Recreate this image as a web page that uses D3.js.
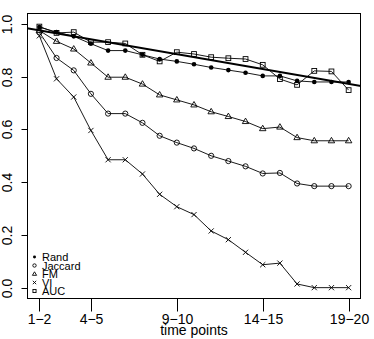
<!DOCTYPE html>
<html><head><meta charset="utf-8">
<script src="https://cdn.jsdelivr.net/npm/d3@7"></script>
<style>html,body{margin:0;padding:0;background:#fff;}svg{display:block;font-family:"Liberation Sans",Arial,sans-serif;}</style>
</head><body>
<svg id="c" width="374" height="339"></svg>
<script>
const timeIndex = d3.range(1, 20);
const xTickIndex = [1, 4, 9, 14, 19];
const xTickLabels = ["1\u22122", "4\u22125", "9\u221210", "14\u221215", "19\u221220"];
const yTicks = [0, 0.2, 0.4, 0.6, 0.8, 1.0];
const seriesNames = ["Rand", "Jaccard", "FM", "VI", "AUC"];
const rand = [0.988,0.969,0.953,0.925,0.899,0.899,0.883,0.867,0.858,0.847,0.835,0.825,0.815,0.803,0.803,0.784,0.780,0.780,0.780];
const jaccard = [0.968,0.871,0.824,0.735,0.660,0.660,0.625,0.576,0.550,0.528,0.500,0.480,0.460,0.433,0.435,0.395,0.385,0.385,0.385];
const fm = [0.975,0.934,0.905,0.852,0.798,0.798,0.772,0.731,0.712,0.693,0.667,0.649,0.630,0.603,0.609,0.569,0.557,0.557,0.557];
const vi = [0.955,0.792,0.723,0.596,0.485,0.485,0.431,0.354,0.307,0.277,0.215,0.182,0.134,0.087,0.093,0.014,0.000,0.000,0.000];
const auc = [0.990,0.966,0.969,0.931,0.931,0.926,0.883,0.858,0.893,0.886,0.874,0.870,0.867,0.845,0.791,0.769,0.822,0.820,0.749];
const fitIntercept = 0.987;
const fitSlope = -0.01127;
const xLabel = "time points";

const svg = d3.select("#c");
const x = d3.scaleLinear().domain([0.28, 19.72]).range([27, 361]);
const y = d3.scaleLinear().domain([-0.04, 1.04]).range([298.2, 13.4]);

const plot = svg.append("g");
// box
svg.append("rect").attr("x", 27.5).attr("y", 13.5).attr("width", 333).attr("height", 285)
  .attr("fill", "none").attr("stroke", "#000").attr("stroke-width", 1);

// clip
svg.append("clipPath").attr("id", "clip").append("rect").attr("x", 27.5).attr("y", 13.5).attr("width", 333).attr("height", 285);

// y axis
const yAxis = d3.axisLeft(y).tickValues(yTicks).tickFormat(d3.format(".1f")).tickSize(6).tickPadding(0);
const gy = svg.append("g").attr("transform", "translate(27.5,0)").call(yAxis);
gy.select(".domain").remove();
gy.selectAll(".tick line").attr("stroke", "#000");
gy.selectAll(".tick text").attr("font-size", 14).attr("fill", "#000")
  .attr("transform", "rotate(-90)").attr("text-anchor", "middle")
  .attr("x", 0).attr("dy", 0)
  .each(function(d){ d3.select(this).attr("x", -y(d)).attr("y", 12); });
gy.selectAll(".tick").attr("transform", d => `translate(0,${Math.round(y(d))+0.5})`);
gy.selectAll(".tick text").each(function(d){ d3.select(this).attr("x", -(Math.round(y(d))+0.5)); });
gy.selectAll(".tick text").attr("transform", function(d){ return `translate(0,${-(Math.round(y(d))+0.5)}) rotate(-90)`; })
  .attr("x", function(d){ return -(Math.round(y(d))+0.5); }).attr("y", -15.5);

// x axis
const xAxis = d3.axisBottom(x).tickValues(xTickIndex).tickFormat((d, i) => xTickLabels[i]).tickSize(13).tickPadding(0);
const gx = svg.append("g").attr("transform", "translate(0,298.5)").call(xAxis);
gx.select(".domain").remove();
gx.selectAll(".tick").attr("transform", d => `translate(${Math.round(x(d))+0.5},0)`);
gx.selectAll(".tick line").attr("stroke", "#000");
gx.selectAll(".tick text").attr("font-size", 14).attr("fill", "#000").attr("dy", 0).attr("y", 25);

svg.append("text").attr("x", (x.range()[0] + x.range()[1]) / 2).attr("y", 335)
  .attr("text-anchor", "middle").attr("font-size", 14).text(xLabel);

// fitted line
const g = svg.append("g").attr("clip-path", "url(#clip)");
const xd = x.domain();
g.append("line")
  .attr("x1", x(xd[0])).attr("y1", y(fitIntercept + fitSlope * xd[0]))
  .attr("x2", x(xd[1])).attr("y2", y(fitIntercept + fitSlope * xd[1]))
  .attr("stroke", "#000").attr("stroke-width", 2);

const series = [
  {name: "Rand", values: rand, pch: "dot"},
  {name: "Jaccard", values: jaccard, pch: "circle"},
  {name: "FM", values: fm, pch: "triangle"},
  {name: "VI", values: vi, pch: "cross"},
  {name: "AUC", values: auc, pch: "square"}
];

const line = d3.line().x((d, i) => x(timeIndex[i])).y(d => y(d));

function marker(sel, type, s) {
  if (type === "dot") {
    sel.append("circle").attr("r", 2.3 * s).attr("fill", "#000");
  } else if (type === "circle") {
    sel.append("circle").attr("r", 2.6 * s).attr("fill", "none").attr("stroke", "#000").attr("stroke-width", 0.9);
  } else if (type === "triangle") {
    const r = 3.4 * s;
    sel.append("path").attr("d", `M0,${-r}L${r*0.95},${r*0.6}L${-r*0.95},${r*0.6}Z`)
      .attr("fill", "none").attr("stroke", "#000").attr("stroke-width", 0.9);
  } else if (type === "cross") {
    const r = 2.6 * s;
    sel.append("path").attr("d", `M${-r},${-r}L${r},${r}M${-r},${r}L${r},${-r}`)
      .attr("stroke", "#000").attr("stroke-width", 0.9);
  } else if (type === "square") {
    const r = 2.4 * s;
    sel.append("rect").attr("x", -r).attr("y", -r).attr("width", 2*r).attr("height", 2*r)
      .attr("fill", "none").attr("stroke", "#000").attr("stroke-width", 0.9);
  }
}

series.forEach(sr => {
  g.append("path").attr("d", line(sr.values)).attr("fill", "none").attr("stroke", "#000").attr("stroke-width", 0.9);
  sr.values.forEach((v, i) => {
    const m = g.append("g").attr("transform", `translate(${x(timeIndex[i])},${y(v)})`);
    marker(m, sr.pch, 1);
  });
});

// legend
const leg = svg.append("g");
series.forEach((sr, i) => {
  const cy = 257 + i * 8.5;
  const m = leg.append("g").attr("transform", `translate(34.5,${cy})`);
  marker(m, sr.pch, 0.65);
  leg.append("text").attr("x", 42).attr("y", cy + 4).attr("font-size", 11).text(sr.name);
});
</script>
</body></html>
